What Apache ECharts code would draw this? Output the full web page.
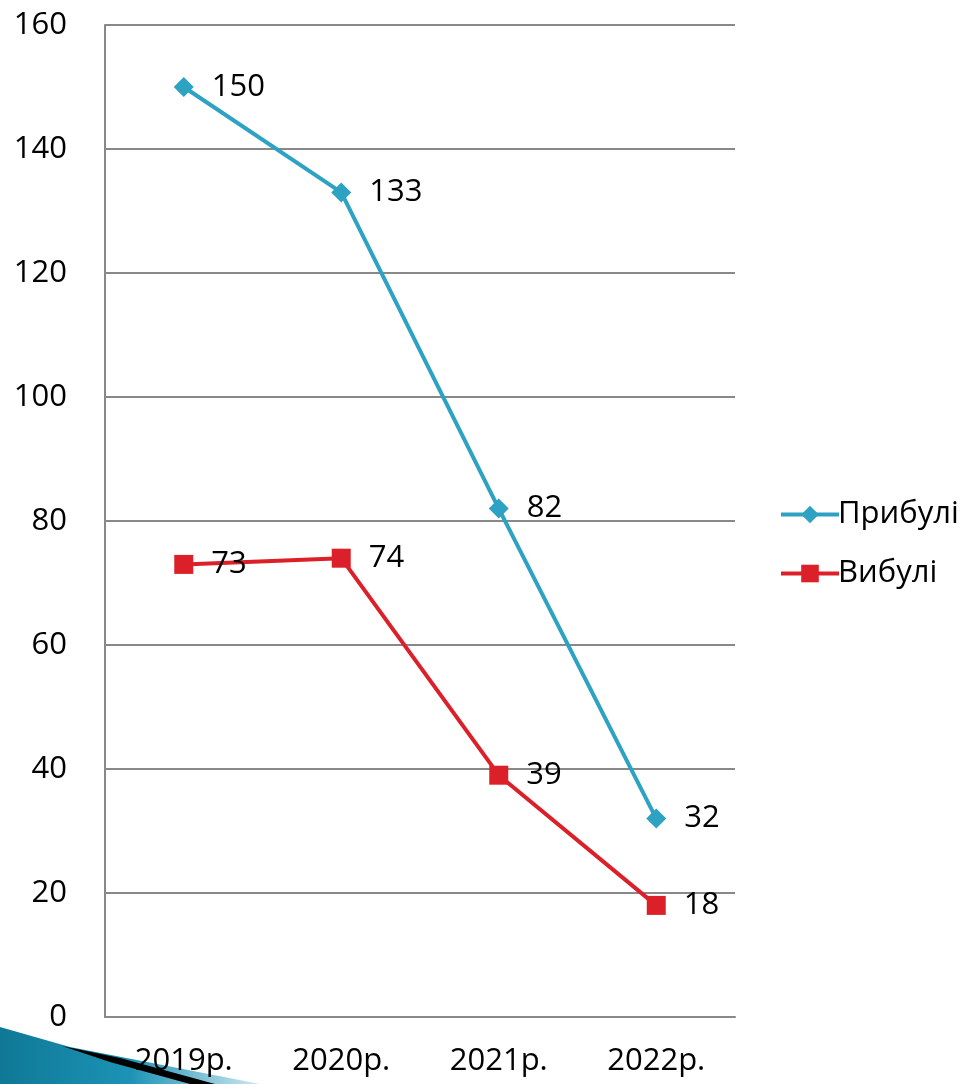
<!DOCTYPE html>
<html>
<head>
<meta charset="utf-8">
<script src="https://cdn.jsdelivr.net/npm/echarts@6/dist/echarts.min.js"></script>
<style>html,body{margin:0;padding:0;background:#fff}#c{width:965px;height:1084px}</style>
</head>
<body>
<div id="c"></div>
<script>
const categories = ['2019р.', '2020р.', '2021р.', '2022р.'];
const arrived = [150, 133, 82, 32];
const departed = [73, 74, 39, 18];
const yTicks = { min: 0, max: 160, interval: 20 };

const FONT = '"Open Sans", "Noto Sans", sans-serif';
const FS = 31;
const chart = echarts.init(document.getElementById('c'));
const labelStyle = { show: true, position: 'right', distance: 18, fontSize: FS, color: '#000', fontFamily: FONT };
chart.setOption({
  animation: false,
  backgroundColor: '#fff',
  textStyle: { fontFamily: FONT },
  grid: { left: 105, top: 25, width: 630, height: 992, containLabel: false },
  legend: {
    orient: 'vertical', left: 774, top: 494, itemGap: 28,
    itemWidth: 58, itemHeight: 22,
    lineStyle: { width: 4 },
    textStyle: { fontSize: FS, color: '#000', fontFamily: FONT, padding: [0, 0, 0, -6] },
    data: ['Прибулі', 'Вибулі']
  },
  xAxis: {
    type: 'category', data: categories, boundaryGap: true,
    axisLine: { lineStyle: { color: '#888', width: 2 } },
    axisTick: { show: false },
    axisLabel: { fontSize: FS, color: '#000', margin: 29, fontFamily: FONT }
  },
  yAxis: {
    type: 'value', min: yTicks.min, max: yTicks.max, interval: yTicks.interval,
    axisLine: { show: true, lineStyle: { color: '#888', width: 2 } },
    axisTick: { show: false },
    splitLine: { lineStyle: { color: '#888', width: 2 } },
    axisLabel: { fontSize: FS, color: '#000', margin: 38, fontFamily: FONT }
  },
  series: [
    {
      name: 'Прибулі', type: 'line', data: arrived,
      symbol: 'diamond', symbolSize: 20,
      lineStyle: { color: '#2EA2C2', width: 4 },
      itemStyle: { color: '#2EA2C2' },
      label: labelStyle
    },
    {
      name: 'Вибулі', type: 'line', data: departed,
      symbol: 'rect', symbolSize: 19,
      lineStyle: { color: '#DC2029', width: 4 },
      itemStyle: { color: '#DC2029' },
      label: labelStyle
    }
  ],
  graphic: [
    {
      type: 'polygon', silent: true, z: -1,
      shape: { points: [[0, 1027], [70, 1047], [260, 1084], [0, 1084]] },
      style: { fill: new echarts.graphic.LinearGradient(0, 0, 1, 0, [
        { offset: 0, color: '#0F7896' }, { offset: 0.5, color: '#1C93B5' }, { offset: 1, color: '#D0E8F2' }
      ]) }
    },
    {
      type: 'polygon', silent: true, z: 1,
      shape: { points: [[62, 1046], [120, 1058], [215, 1084], [190, 1084], [110, 1062]] },
      style: { fill: '#000' }
    }
  ]
});
</script>
</body>
</html>
